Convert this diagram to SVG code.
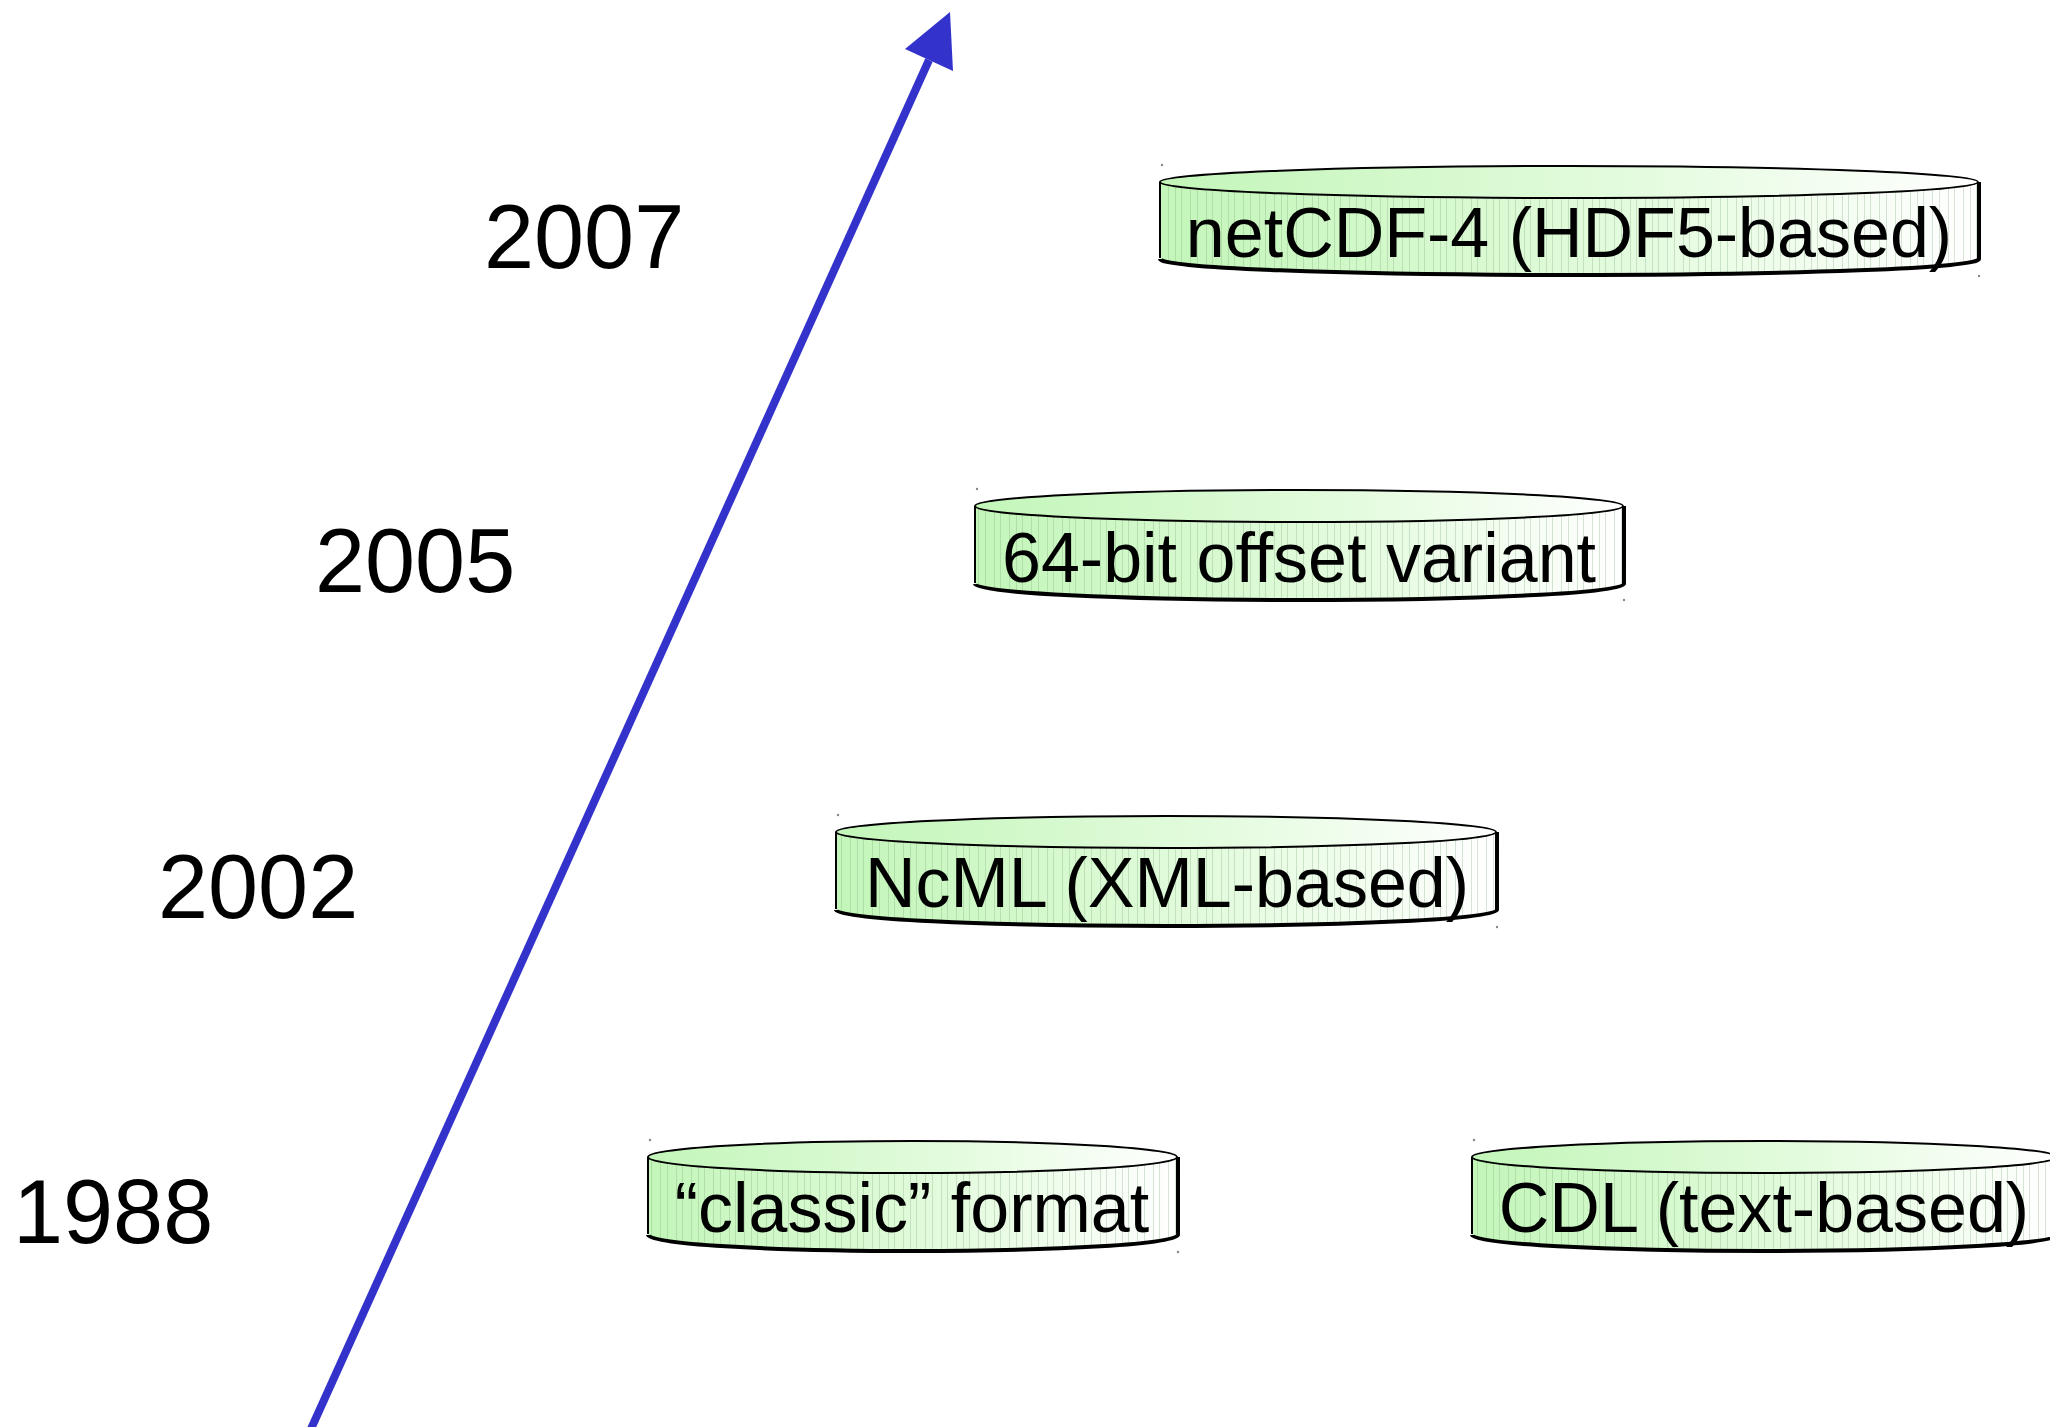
<svg xmlns="http://www.w3.org/2000/svg" width="2050" height="1427" viewBox="0 0 2050 1427">
  <style>
    .year { font-family: "Liberation Sans", Arial, sans-serif; font-size: 90px; fill: #000; }
    .label { font-family: "Liberation Sans", Arial, sans-serif; font-size: 70px; fill: #000; text-anchor: middle; }
    .body { fill: url(#disk); }
    .hatch { fill: url(#lines); }
    .edge { fill: none; stroke: #000; stroke-width: 2; }
    .shade { fill: none; stroke: #000; stroke-width: 4; }
    .dot { fill: #888; }
    .axis { stroke: #3333cc; stroke-width: 8; fill: none; }
  </style>
  <defs>
    <linearGradient id="disk" x1="0" y1="0" x2="1" y2="0">
      <stop offset="0" stop-color="#c3f6b9"/>
      <stop offset="0.55" stop-color="#e2fbdc"/>
      <stop offset="1" stop-color="#ffffff"/>
    </linearGradient>
    <pattern id="lines" patternUnits="userSpaceOnUse" width="53" height="20">
      <g stroke="#7fa87a" stroke-opacity="0.3" stroke-width="1">
        <line x1="2.5" y1="0" x2="2.5" y2="20"/>
        <line x1="9.5" y1="0" x2="9.5" y2="20"/>
        <line x1="15.5" y1="0" x2="15.5" y2="20"/>
        <line x1="24.5" y1="0" x2="24.5" y2="20"/>
        <line x1="31.5" y1="0" x2="31.5" y2="20"/>
        <line x1="40.5" y1="0" x2="40.5" y2="20"/>
        <line x1="46.5" y1="0" x2="46.5" y2="20"/>
      </g>
    </pattern>
  </defs>

  <rect width="2050" height="1427" fill="#fff"/>

  <!-- time axis -->
  <g id="connectors">
    <line class="axis" x1="306" y1="1440" x2="929" y2="60"/>
    <polygon points="950,12 905,49 953,71" fill="#3333cc"/>
  </g>

  <!-- year labels -->
  <g id="years">
    <text class="year" x="484" y="268">2007</text>
    <text class="year" x="315" y="592">2005</text>
    <text class="year" x="158" y="918">2002</text>
    <text class="year" x="13" y="1243">1988</text>
  </g>

  <!-- netCDF-4: L=1160 R=1978 top=182 bottom=258 -->
  <g id="netcdf4">
    <path class="body" d="M1160,182 V258 A409,16 0 0 0 1978,258 V182 A409,16 0 0 0 1160,182 Z"/>
    <path class="hatch" d="M1160,182 V258 A409,16 0 0 0 1978,258 V182 A409,16 0 0 0 1160,182 Z"/>
    <path class="edge" d="M1160,182 V258"/>
    <path class="shade" d="M1160,259 A409,16 0 0 0 1979,259 V182"/>
    <ellipse class="body" cx="1569" cy="182" rx="409" ry="16"/>
    <ellipse class="edge" cx="1569" cy="182" rx="409" ry="16"/>
    <text class="label" x="1569" y="257">netCDF-4 (HDF5-based)</text>
    <circle class="dot" cx="1162" cy="165" r="1.2"/>
    <circle class="dot" cx="1979" cy="276" r="1.2"/>
  </g>

  <!-- 64-bit offset: L=975 R=1623 top=506 bottom=583 -->
  <g id="offset64">
    <path class="body" d="M975,506 V583 A324,16 0 0 0 1623,583 V506 A324,16 0 0 0 975,506 Z"/>
    <path class="hatch" d="M975,506 V583 A324,16 0 0 0 1623,583 V506 A324,16 0 0 0 975,506 Z"/>
    <path class="edge" d="M975,506 V583"/>
    <path class="shade" d="M975,584 A324,16 0 0 0 1624,584 V506"/>
    <ellipse class="body" cx="1299" cy="506" rx="324" ry="16"/>
    <ellipse class="edge" cx="1299" cy="506" rx="324" ry="16"/>
    <text class="label" x="1299" y="582">64-bit offset variant</text>
    <circle class="dot" cx="977" cy="489" r="1.2"/>
    <circle class="dot" cx="1624" cy="600" r="1.2"/>
  </g>

  <!-- NcML: L=836 R=1496 top=832 bottom=909 -->
  <g id="ncml">
    <path class="body" d="M836,832 V909 A330,16 0 0 0 1496,909 V832 A330,16 0 0 0 836,832 Z"/>
    <path class="hatch" d="M836,832 V909 A330,16 0 0 0 1496,909 V832 A330,16 0 0 0 836,832 Z"/>
    <path class="edge" d="M836,832 V909"/>
    <path class="shade" d="M836,910 A330,16 0 0 0 1497,910 V832"/>
    <ellipse class="body" cx="1166" cy="832" rx="330" ry="16"/>
    <ellipse class="edge" cx="1166" cy="832" rx="330" ry="16"/>
    <text class="label" x="1167" y="907">NcML (XML-based)</text>
    <circle class="dot" cx="838" cy="815" r="1.2"/>
    <circle class="dot" cx="1497" cy="927" r="1.2"/>
  </g>

  <!-- classic: L=648 R=1177 top=1157 bottom=1234 -->
  <g id="classic">
    <path class="body" d="M648,1157 V1234 A264.5,16 0 0 0 1177,1234 V1157 A264.5,16 0 0 0 648,1157 Z"/>
    <path class="hatch" d="M648,1157 V1234 A264.5,16 0 0 0 1177,1234 V1157 A264.5,16 0 0 0 648,1157 Z"/>
    <path class="edge" d="M648,1157 V1234"/>
    <path class="shade" d="M648,1235 A264.5,16 0 0 0 1178,1235 V1157"/>
    <ellipse class="body" cx="912.5" cy="1157" rx="264.5" ry="16"/>
    <ellipse class="edge" cx="912.5" cy="1157" rx="264.5" ry="16"/>
    <text class="label" x="912" y="1232">“classic” format</text>
    <circle class="dot" cx="650" cy="1140" r="1.2"/>
    <circle class="dot" cx="1178" cy="1252" r="1.2"/>
  </g>

  <!-- CDL: L=1472 R=2057 top=1157 bottom=1234 -->
  <g id="cdl">
    <path class="body" d="M1472,1157 V1234 A292.5,16 0 0 0 2057,1234 V1157 A292.5,16 0 0 0 1472,1157 Z"/>
    <path class="hatch" d="M1472,1157 V1234 A292.5,16 0 0 0 2057,1234 V1157 A292.5,16 0 0 0 1472,1157 Z"/>
    <path class="edge" d="M1472,1157 V1234"/>
    <path class="shade" d="M1472,1235 A292.5,16 0 0 0 2058,1235 V1157"/>
    <ellipse class="body" cx="1764.5" cy="1157" rx="292.5" ry="16"/>
    <ellipse class="edge" cx="1764.5" cy="1157" rx="292.5" ry="16"/>
    <text class="label" x="1764" y="1232">CDL (text-based)</text>
    <circle class="dot" cx="1474" cy="1140" r="1.2"/>
  </g>
</svg>
